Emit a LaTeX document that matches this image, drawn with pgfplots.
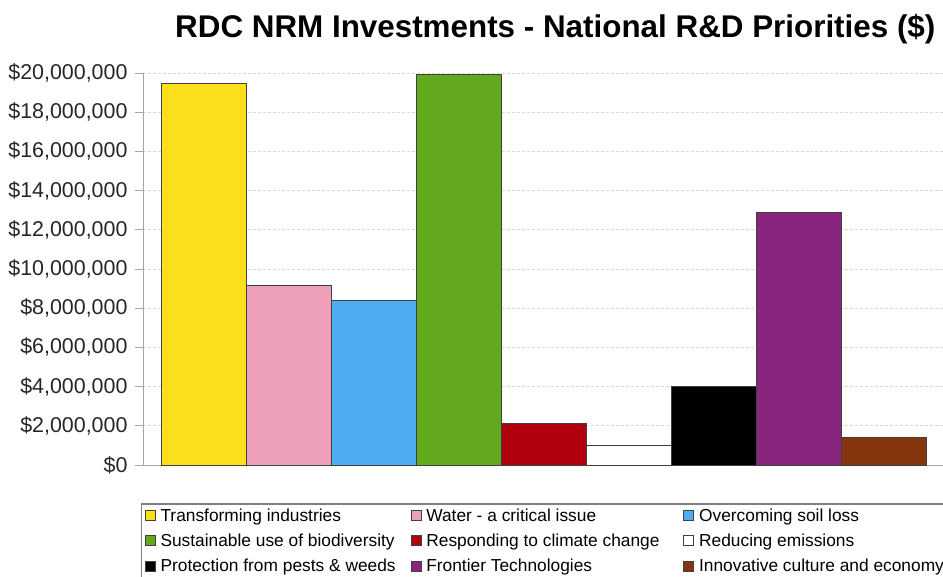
\documentclass[border=0pt]{standalone}
\usepackage{pgfplots}
\pgfplotsset{compat=1.18}
\usepackage{fontspec}
\setmainfont{Liberation Sans}
\definecolor{cYellow}{HTML}{FADF1A}
\definecolor{cPink}{HTML}{EFA0B9}
\definecolor{cBlue}{HTML}{4DADF2}
\definecolor{cGreen}{HTML}{62A91E}
\definecolor{cRed}{HTML}{B3000F}
\definecolor{cPurple}{HTML}{8A257E}
\definecolor{cBrown}{HTML}{85360F}
\begin{document}
\begin{tikzpicture}[x=1bp,y=1bp]
\path[use as bounding box] (0,0) rectangle (943,-577);
\node[anchor=base west, font=\fontsize{31.5}{36}\selectfont\bfseries, inner sep=0pt] at (175,-38) {RDC NRM Investments - National R\&D Priorities (\$)};
\begin{axis}[
  at={(143bp,-465bp)}, anchor=south west,
  width=800bp, height=392bp, scale only axis,
  xmin=-0.712, xmax=8.70, ymin=0, ymax=20000000,
  axis lines=left,
  axis line style={-, draw=gray!70, line width=1bp},
  xtick=\empty,
  ytick={0,2000000,4000000,6000000,8000000,10000000,12000000,14000000,16000000,18000000,20000000},
  scaled y ticks=false,
  /pgf/number format/assume math mode=true,
  /pgf/number format/fixed,
  /pgf/number format/1000 sep={,},
  yticklabel={\$\pgfmathprintnumber{\tick}},
  yticklabel style={font=\fontsize{21.5}{24}\selectfont, text=black!85, xshift=-4bp},
  tick align=outside,
  ytick style={draw=gray!70, line width=1bp},
  major tick length=8bp,
  ymajorgrids,
  grid style={densely dashed, gray!30, line width=0.8bp},
  ybar, bar width=1, bar shift=0pt,
  every axis plot/.append style={draw=black!75, line width=0.9bp},
  legend image code/.code={\draw[#1, line width=0.8bp] (0bp,-5bp) rectangle (10bp,5bp);},
  legend columns=3,
  legend style={at={(-0.0025,-0.097)}, anchor=north west, draw=gray, line width=1.5bp,
    font=\fontsize{17.4}{20}\selectfont, inner sep=3bp,
    nodes={inner sep=2bp},
    /tikz/every odd column/.append style={column sep=3bp},
    /tikz/every even column/.append style={column sep=0bp},
    row sep=7bp},
]
\addplot[fill=cYellow] coordinates {(0,19490000)};
\addlegendentry{\makebox[248bp][l]{Transforming industries}}
\addplot[fill=cPink] coordinates {(1,9180000)};
\addlegendentry{\makebox[255bp][l]{Water - a critical issue}}
\addplot[fill=cBlue] coordinates {(2,8400000)};
\addlegendentry{\makebox[250bp][l]{Overcoming soil loss}}
\addplot[fill=cGreen] coordinates {(3,19950000)};
\addlegendentry{\makebox[248bp][l]{Sustainable use of biodiversity}}
\addplot[fill=cRed] coordinates {(4,2140000)};
\addlegendentry{\makebox[255bp][l]{Responding to climate change}}
\addplot[fill=white] coordinates {(5,1020000)};
\addlegendentry{\makebox[250bp][l]{Reducing emissions}}
\addplot[fill=black] coordinates {(6,4030000)};
\addlegendentry{\makebox[248bp][l]{Protection from pests \& weeds}}
\addplot[fill=cPurple] coordinates {(7,12900000)};
\addlegendentry{\makebox[255bp][l]{Frontier Technologies}}
\addplot[fill=cBrown] coordinates {(8,1430000)};
\addlegendentry{\makebox[250bp][l]{Innovative culture and economy}}
\end{axis}
\end{tikzpicture}
\end{document}
